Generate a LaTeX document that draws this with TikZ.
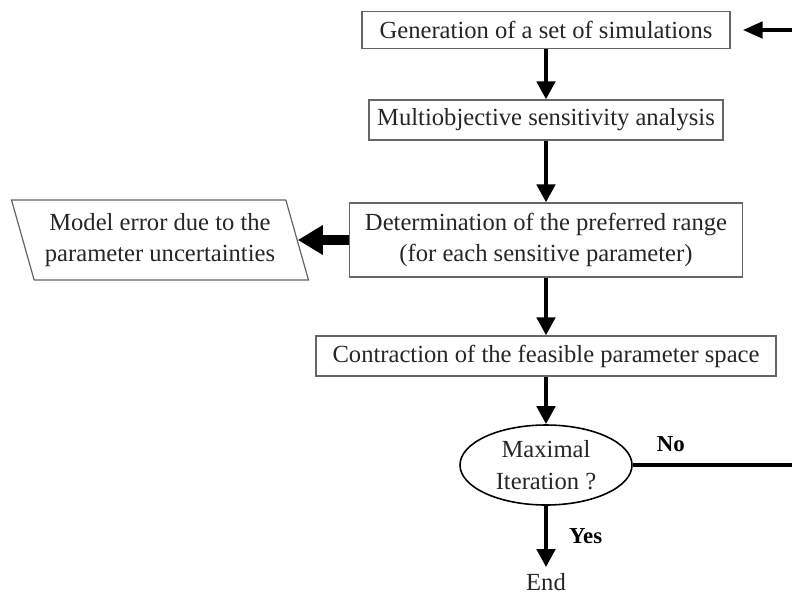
\documentclass[tikz,border=0pt]{standalone}
\usepackage{fontspec}
\setmainfont{Liberation Serif}
\usetikzlibrary{arrows.meta,positioning,shapes.geometric}

\begin{document}
\begin{tikzpicture}[>={Triangle[length=0.36cm,width=0.36cm]}, on grid, node distance=2.4cm,
		font=\fontsize{14}{18}\selectfont, text=black!85,
		proc/.style={draw=black!60, line width=0.7pt, fill=white, minimum height=0.8cm, inner sep=0pt, align=center},
		flow/.style={->, line width=2.6pt},
		answer/.style={font=\fontsize{13}{15}\bfseries, text=black}]
	\useasboundingbox (0,0) rectangle (15.84,-11.94);
	\clip (0,0) rectangle (15.84,-11.94);
	\node[proc, minimum width=7.36cm, minimum height=0.74cm] (gen) at (10.92,-0.6) {Generation of a set of simulations};
	\node[proc, minimum width=7.08cm] (moa) [below=1.8cm of gen] {Multiobjective sensitivity analysis};
	\node[proc, minimum width=7.86cm, minimum height=1.48cm] (range) [below=of moa] {Determination of the preferred range\\(for each sensitive parameter)};
	\node[proc, minimum width=9.2cm] (contr) [below=2.32cm of range] {Contraction of the feasible parameter space};
	\node[ellipse, draw=black, line width=0.9pt, minimum width=3.44cm, minimum height=1.6cm, inner sep=0pt, align=center] (maxit) [below=2.18cm of contr] {Maximal\\Iteration ?};
	\node (end) [below=2.34cm of maxit] {End};
	\node[trapezium, trapezium left angle=111, trapezium right angle=69, trapezium stretches=true,
		draw=black!60, line width=0.7pt, minimum width=5.94cm, minimum height=1.6cm, inner sep=0pt, align=center]
		(err) [left=7.72cm of range] {Model error due to the\\parameter uncertainties};
	\path[flow]
		(gen) edge (moa)
		(moa) edge (range)
		(range) edge (contr)
		(contr) edge (maxit)
		(maxit) edge node[answer, anchor=west, xshift=0.3cm] {Yes} (end)
	;
	\draw[->, line width=6pt, >={Triangle[length=0.5cm,width=0.56cm]}] (range.west) -- (range.west -| err.east);
	% loop back (corner lies outside the frame)
	\draw[flow, >={Triangle[length=0.4cm,width=0.32cm]}, shorten >=0.24cm]
		(maxit.east) -- node[answer, above, pos=0.19, yshift=0.1cm] {No} ++(4,0) |- (gen.east);
\end{tikzpicture}
\end{document}
